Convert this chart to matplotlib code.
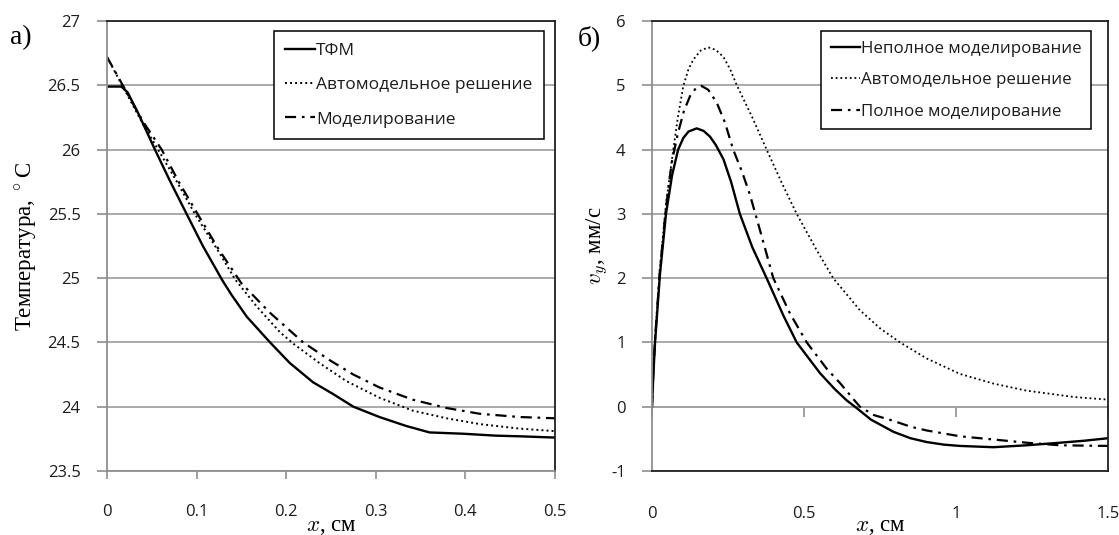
import numpy as np
import matplotlib
matplotlib.use("Agg")
import matplotlib.pyplot as plt

plt.rcParams['mathtext.fontset'] = 'cm'
plt.rcParams['font.family'] = ['Open Sans', 'DejaVu Sans']

# ---- panel a: temperature ----
x_tfm = [0, 0.016, 0.023, 0.035, 0.0535, 0.07, 0.0888, 0.107, 0.129, 0.139, 0.156,
         0.182, 0.204, 0.230, 0.252, 0.275, 0.304, 0.334, 0.360, 0.397, 0.434, 0.46, 0.5]
t_tfm = [26.49, 26.49, 26.445, 26.28, 26.0, 25.76, 25.5, 25.25, 24.98, 24.87, 24.70,
         24.5, 24.34, 24.19, 24.10, 24.0, 23.92, 23.85, 23.80, 23.79, 23.775, 23.77, 23.76]

x_auto = [0, 0.02, 0.04, 0.057, 0.078, 0.098, 0.126, 0.143, 0.167, 0.193, 0.208,
          0.237, 0.267, 0.304, 0.341, 0.379, 0.416, 0.46, 0.5]
t_auto = [26.72, 26.46, 26.2, 26.0, 25.75, 25.5, 25.19, 24.99, 24.78, 24.58, 24.49,
          24.34, 24.2, 24.07, 23.97, 23.91, 23.865, 23.83, 23.81]

x_mod = [0, 0.02, 0.04, 0.061, 0.08, 0.101, 0.125, 0.15, 0.182, 0.219, 0.249,
         0.275, 0.304, 0.341, 0.379, 0.416, 0.46, 0.5]
t_mod = [26.72, 26.47, 26.22, 26.0, 25.75, 25.5, 25.22, 24.96, 24.73, 24.5, 24.36,
         24.25, 24.15, 24.055, 23.99, 23.945, 23.92, 23.91]

labels_a = ['ТФМ', 'Автомодельное решение', 'Моделирование']
xticks_a = [0, 0.1, 0.2, 0.3, 0.4, 0.5]
xticklabels_a = ['0', '0.1', '0.2', '0.3', '0.4', '0.5']
yticks_a = [23.5, 24, 24.5, 25, 25.5, 26, 26.5, 27]
yticklabels_a = ['23.5', '24', '24.5', '25', '25.5', '26', '26.5', '27']

# ---- panel b: velocity ----
x_part = [0, 0.004, 0.01, 0.026, 0.046, 0.066, 0.086, 0.103, 0.12, 0.147, 0.17,
          0.191, 0.21, 0.235, 0.26, 0.289, 0.33, 0.377, 0.432, 0.476, 0.553,
          0.60, 0.64, 0.673, 0.72, 0.794, 0.85, 0.904, 0.96, 1.013, 1.123,
          1.232, 1.342, 1.42, 1.5]
v_part = [0, 0.45, 1.0, 2.05, 3.0, 3.6, 4.0, 4.18, 4.28, 4.33, 4.29,
          4.2, 4.07, 3.85, 3.5, 3.0, 2.48, 2.0, 1.42, 1.0, 0.52,
          0.28, 0.1, -0.02, -0.2, -0.39, -0.49, -0.55, -0.59, -0.61, -0.63,
          -0.6, -0.56, -0.53, -0.49]

x_self = [0, 0.004, 0.01, 0.026, 0.046, 0.07, 0.085, 0.103, 0.12, 0.136, 0.16,
          0.185, 0.21, 0.235, 0.257, 0.279, 0.33, 0.377, 0.43, 0.476, 0.54,
          0.596, 0.64, 0.684, 0.75, 0.816, 0.904, 1.013, 1.123, 1.232, 1.39, 1.5]
v_self = [0, 0.5, 1.05, 2.15, 3.15, 4.0, 4.5, 4.99, 5.25, 5.40, 5.54,
          5.59, 5.55, 5.44, 5.25, 5.0, 4.5, 4.0, 3.45, 3.0, 2.45,
          2.0, 1.75, 1.5, 1.22, 1.0, 0.75, 0.51, 0.36, 0.25, 0.15, 0.11]

x_full = [0, 0.004, 0.01, 0.026, 0.046, 0.065, 0.085, 0.105, 0.125, 0.145, 0.163,
          0.185, 0.213, 0.24, 0.267, 0.295, 0.322, 0.355, 0.399, 0.454, 0.509,
          0.575, 0.62, 0.662, 0.684, 0.73, 0.794, 0.85, 0.904, 1.013, 1.123,
          1.232, 1.342, 1.5]
v_full = [0, 0.5, 1.05, 2.12, 3.1, 3.8, 4.25, 4.6, 4.83, 4.96, 4.99,
          4.93, 4.73, 4.42, 4.0, 3.67, 3.3, 2.75, 2.0, 1.45, 1.0,
          0.59, 0.36, 0.12, 0.0, -0.13, -0.22, -0.31, -0.37, -0.46, -0.51,
          -0.56, -0.6, -0.61]

labels_b = ['Неполное моделирование', 'Автомодельное решение', 'Полное моделирование']
xticks_b = [0, 0.5, 1, 1.5]
xticklabels_b = ['0', '0.5', '1', '1.5']
yticks_b = [-1, 0, 1, 2, 3, 4, 5, 6]
yticklabels_b = ['-1', '0', '1', '2', '3', '4', '5', '6']

GRAY = '#8f8f8f'
GRID = '#a3a3a3'
TXT = '#1c1c1c'
SERIF = ['Liberation Serif', 'DejaVu Serif']
DASHDOT = (0, (5, 2.6, 1.2, 2.6))
DOTS = (0, (1, 1.6))

fig = plt.figure(figsize=(11.19, 5.35), dpi=100)
ax1 = fig.add_axes([107 / 1119, 64 / 535, 448 / 1119, 450 / 535])
ax2 = fig.add_axes([652 / 1119, 64 / 535, 456 / 1119, 450 / 535])


def style(ax, xt, xtl, yt, ytl, ylim, xlim):
    ax.set_xlim(*xlim)
    ax.set_ylim(*ylim)
    ax.set_yticks(yt, ytl)
    ax.set_xticks(xt, xtl)
    ax.yaxis.grid(True, color=GRID, lw=1.3)
    ax.set_axisbelow(True)
    for s in ['top', 'right']:
        ax.spines[s].set_color('#202020')
        ax.spines[s].set_linewidth(1.3)
    ax.spines['left'].set_color(GRAY)
    ax.spines['left'].set_linewidth(1.3)
    ax.tick_params(axis='y', direction='out', length=7, width=1.2, color=GRAY,
                   pad=12, labelsize=12, labelcolor=TXT)
    ax.tick_params(axis='x', labelsize=12, labelcolor=TXT)


def legend(ax, anchor, spacing, pad, size):
    leg = ax.legend(loc='upper right', bbox_to_anchor=anchor, fontsize=size,
                    handlelength=1.75, handletextpad=0.05, labelspacing=spacing,
                    borderpad=pad, fancybox=False, framealpha=1, borderaxespad=0)
    leg.get_frame().set_edgecolor('black')
    leg.get_frame().set_linewidth(1.1)
    for t in leg.get_texts():
        t.set_color(TXT)
    return leg


# panel a
style(ax1, xticks_a, xticklabels_a, yticks_a, yticklabels_a, (23.5, 27), (0, 0.5))
ax1.spines['bottom'].set_color(GRAY)
ax1.spines['bottom'].set_linewidth(1.3)
ax1.tick_params(axis='x', direction='out', length=6, width=1.2, color=GRAY, pad=18)
ax1.plot(x_tfm, t_tfm, color='black', lw=1.7, label=labels_a[0])
ax1.plot(x_auto, t_auto, color='black', lw=1.4, ls=DOTS, label=labels_a[1])
ax1.plot(x_mod, t_mod, color='black', lw=1.6, ls=DASHDOT, label=labels_a[2])
legend(ax1, (0.975, 0.977), 1.05, 0.65, 12.5)
ax1.set_ylabel('Температура, $^\\circ$C', family=SERIF, fontsize=16.5)
ax1.yaxis.set_label_coords(-0.15, 0.5)
ax1.set_xlabel('$x$, см', family=SERIF, fontsize=16.5)
ax1.xaxis.set_label_coords(0.5, -0.1)

# panel b
style(ax2, xticks_b, xticklabels_b, yticks_b, yticklabels_b, (-1, 6), (0, 1.5))
ax2.spines['bottom'].set_color('#202020')
ax2.spines['bottom'].set_linewidth(1.3)
ax2.tick_params(axis='x', length=0, pad=25)
zero_ax = ax2.secondary_xaxis(1 / 7)
zero_ax.set_xticks(xticks_b)
zero_ax.spines['bottom'].set_color(GRAY)
zero_ax.spines['bottom'].set_linewidth(1.3)
zero_ax.tick_params(axis='x', direction='out', length=7, width=1.2, color=GRAY,
                    labelbottom=False)
ax2.plot(x_part, v_part, color='black', lw=1.7, label=labels_b[0])
ax2.plot(x_self, v_self, color='black', lw=1.3, ls=DOTS, label=labels_b[1])
ax2.plot(x_full, v_full, color='black', lw=1.6, ls=DASHDOT, label=labels_b[2])
legend(ax2, (0.963, 0.977), 0.92, 0.55, 12.2)
ax2.set_ylabel('$v_y$, мм/с', family=SERIF, fontsize=16.5)
ax2.yaxis.set_label_coords(-0.09, 0.5)
ax2.set_xlabel('$x$, см', family=SERIF, fontsize=16.5)
ax2.xaxis.set_label_coords(0.5, -0.1)

fig.text(21 / 1119, 1 - 38 / 535, 'а)', family=SERIF, fontsize=20, ha='center', va='center')
fig.text(589 / 1119, 1 - 38 / 535, 'б)', family=SERIF, fontsize=20, ha='center', va='center')

fig.savefig('out.png', dpi=100)
